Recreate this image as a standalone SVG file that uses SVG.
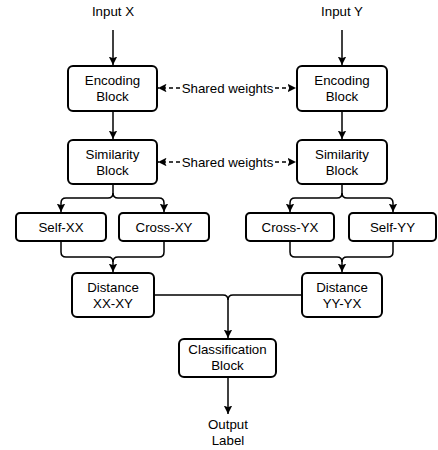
<svg xmlns="http://www.w3.org/2000/svg" width="438" height="450" viewBox="0 0 438 450">
<defs>
<style>
.box{fill:#fff;stroke:#000;stroke-width:2;}
.t{font-family:"Liberation Sans",Arial,sans-serif;font-size:13.3px;fill:#000;text-anchor:middle;}
.c{fill:none;stroke:#000;stroke-width:1.5;}
.d{fill:none;stroke:#000;stroke-width:1.5;stroke-dasharray:4 3;}
</style>
<marker id="ah" viewBox="0 0 10 10" refX="10" refY="5" markerWidth="8.5" markerHeight="8.5" markerUnits="userSpaceOnUse" orient="auto">
<path d="M0,0 L10,5 L0,10 L2,5 Z" fill="#000"/>
</marker>
</defs>
<rect width="438" height="450" fill="#fff"/>
<g id="connectors">
<path class="c" d="M113,30 V65" marker-end="url(#ah)"/>
<path class="c" d="M342,30 V65" marker-end="url(#ah)"/>
<path class="c" d="M113,111 V139" marker-end="url(#ah)"/>
<path class="c" d="M342,111 V139" marker-end="url(#ah)"/>
<path class="d" d="M180,88 H158" marker-end="url(#ah)"/>
<path class="d" d="M275,88 H296" marker-end="url(#ah)"/>
<path class="d" d="M180,162 H158" marker-end="url(#ah)"/>
<path class="d" d="M275,162 H296" marker-end="url(#ah)"/>
<path class="c" d="M113,184 V193 Q113,198 108,198 H66 Q61,198 61,203 V212" marker-end="url(#ah)"/>
<path class="c" d="M113,193 Q113,198 118,198 H159 Q164,198 164,203 V212" marker-end="url(#ah)"/>
<path class="c" d="M342,184 V193 Q342,198 337,198 H295 Q290,198 290,203 V212" marker-end="url(#ah)"/>
<path class="c" d="M342,193 Q342,198 347,198 H388 Q393,198 393,203 V212" marker-end="url(#ah)"/>
<path class="c" d="M61,241 V252 Q61,257 66,257 H108 Q113,257 113,262 V272" marker-end="url(#ah)"/>
<path class="c" d="M164,241 V252 Q164,257 159,257 H118 Q113,257 113,262"/>
<path class="c" d="M290,241 V252 Q290,257 295,257 H337 Q342,257 342,262 V272" marker-end="url(#ah)"/>
<path class="c" d="M393,241 V252 Q393,257 388,257 H347 Q342,257 342,262"/>
<path class="c" d="M154,295 H223 Q228,295 228,300 V338" marker-end="url(#ah)"/>
<path class="c" d="M302,295 H233 Q228,295 228,300"/>
<path class="c" d="M228,377 V414" marker-end="url(#ah)"/>
</g>
<text class="t" x="227.5" y="92.5">Shared weights</text>
<text class="t" x="227.5" y="166.5">Shared weights</text>
<text class="t" x="113" y="16">Input X</text>
<text class="t" x="342" y="16">Input Y</text>
<g id="enc-x"><rect class="box" x="68" y="66" width="89" height="45" rx="5"/><text class="t" x="112.5" y="85">Encoding</text><text class="t" x="112.5" y="101">Block</text></g>
<g id="enc-y"><rect class="box" x="297" y="66" width="90" height="45" rx="5"/><text class="t" x="342" y="85">Encoding</text><text class="t" x="342" y="101">Block</text></g>
<g id="sim-x"><rect class="box" x="68" y="140" width="89" height="44" rx="5"/><text class="t" x="112.5" y="159">Similarity</text><text class="t" x="112.5" y="175">Block</text></g>
<g id="sim-y"><rect class="box" x="297" y="140" width="90" height="44" rx="5"/><text class="t" x="342" y="159">Similarity</text><text class="t" x="342" y="175">Block</text></g>
<g id="self-xx"><rect class="box" x="16" y="213" width="90" height="28" rx="4"/><text class="t" x="61" y="232">Self-XX</text></g>
<g id="cross-xy"><rect class="box" x="119" y="213" width="90" height="28" rx="4"/><text class="t" x="164" y="232">Cross-XY</text></g>
<g id="cross-yx"><rect class="box" x="246" y="213" width="88" height="28" rx="4"/><text class="t" x="290" y="232">Cross-YX</text></g>
<g id="self-yy"><rect class="box" x="349" y="213" width="87" height="28" rx="4"/><text class="t" x="392.5" y="232">Self-YY</text></g>
<g id="dist-x"><rect class="box" x="72" y="273" width="82" height="44" rx="5"/><text class="t" x="113" y="292">Distance</text><text class="t" x="113" y="308">XX-XY</text></g>
<g id="dist-y"><rect class="box" x="302" y="273" width="80" height="44" rx="5"/><text class="t" x="342" y="292">Distance</text><text class="t" x="342" y="308">YY-YX</text></g>
<g id="cls"><rect class="box" x="179" y="339" width="97" height="38" rx="5"/><text class="t" x="227.5" y="354">Classification</text><text class="t" x="227.5" y="370">Block</text></g>
<text class="t" x="228" y="429">Output</text>
<text class="t" x="228" y="445">Label</text>
</svg>
